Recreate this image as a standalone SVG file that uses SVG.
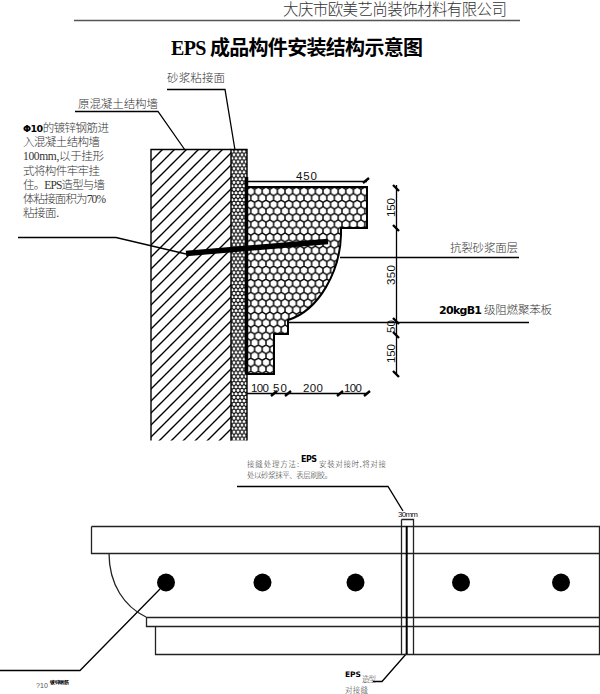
<svg xmlns="http://www.w3.org/2000/svg" width="600" height="694" viewBox="0 0 600 694">
<style>
text{font-family:"Liberation Serif","Noto Sans CJK SC",serif;fill:#333;font-weight:300}
.hd{font-size:15.500px}
.ti{font-size:20px;font-weight:bold;fill:#000}
.lb{font-size:11.500px}
.sm{font-size:7.500px}
.cad{font-family:"Liberation Sans","DejaVu Sans",sans-serif;font-size:11.500px;fill:#111;font-weight:400}
.eps{font-family:"DejaVu Sans","Liberation Sans",sans-serif;font-weight:bold;fill:#000}
.ln{fill:none;stroke:#000;stroke-width:1.300}
.tk{fill:none;stroke:#000;stroke-width:2.400}
.ol{fill:none;stroke:#222;stroke-width:1.300}
</style>
<defs>
<pattern id="hatch" width="12" height="12" patternUnits="userSpaceOnUse"><path d="M-2,14 L14,-2 M-2,2 L2,-2 M10,14 L14,10" stroke="#000" stroke-width="1.400" fill="none"/></pattern>
<pattern id="hexL" x="247" y="187" width="7.600" height="13.160" patternUnits="userSpaceOnUse"><path d="M0,2.190 L3.800,0 L7.600,2.190 M0,2.190 V6.580 L3.800,8.770 L7.600,6.580 V2.190 M3.800,8.770 V13.160" fill="none" stroke="#000" stroke-width="1.400"/></pattern>
<pattern id="hexS" width="4" height="6.930" patternUnits="userSpaceOnUse"><path d="M0,1.155 L2,0 L4,1.155 V3.465 L2,4.620 L0,3.465 V1.155 M2,4.620 V6.930" fill="none" stroke="#000" stroke-width="1.100"/></pattern>
</defs>
<g id="header">
<text class="hd" x="283" y="15" textLength="224">大庆市欧美艺尚装饰材料有限公司</text>
<line x1="74" y1="20.500" x2="520" y2="20.500" stroke="#555" stroke-width="1.600"/>
<text class="ti" x="171" y="55" textLength="252">EPS 成品构件安装结构示意图</text>
</g>
<g id="wall"><rect x="151" y="149.500" width="80" height="291" fill="url(#hatch)"/><path d="M151,440.500 V149.500 H231" fill="none" stroke="#000" stroke-width="1.400"/></g>
<g id="mortar"><rect x="231" y="149.500" width="16" height="291" fill="url(#hexS)"/><path d="M231,440.500 V149.500 H247 V440.500" fill="none" stroke="#000" stroke-width="1.400"/></g>
<g id="eps-shape"><path d="M247,187 H367 V228 H341 V235 C340,270 320,310 288,320 V334 H274 V374 H247 Z" fill="url(#hexL)" stroke="#000" stroke-width="2"/></g>
<g id="anchor">
<line x1="246.500" y1="177" x2="246.500" y2="374" stroke="#000" stroke-width="3.500"/>
<line x1="186" y1="253.500" x2="328" y2="241.500" stroke="#000" stroke-width="5.500"/>
</g>
<g id="connectors">
<path class="ln" d="M167,89.500 H225 L235,150"/>
<path class="ln" d="M75,111.500 H158 L185,150"/>
<path class="ln" d="M18,237.500 H116 L186,254"/>
<path class="ln" d="M340,257.500 H519"/>
<path class="ln" d="M288,322.500 H529"/>
<path class="ln" d="M247,181.500 H367"/>
<path class="ln" d="M396.500,185 V375"/>
<path class="ln" d="M247,393.500 H367"/>
<path class="tk" d="M363,183 L369,178 M393,185 L399,191 M393,225 L399,231 M393,318 L399,324 M393,332 L399,338 M393,371 L399,377 M271,396 L277,391 M285,396 L291,391 M337,396 L343,391 M364,396 L370,391"/>
<path class="ln" d="M237,486.500 H388 L403,511"/>
<path class="ln" d="M0,670.500 H80 L160,589"/>
<path class="ln" d="M407,653 L382,681.500 H373"/>
</g>
<g id="labels">
<text class="lb" x="167" y="82" textLength="58">砂浆粘接面</text>
<text class="lb" x="78" y="108" textLength="80">原混凝土结构墙</text>
<g id="note">
<text class="lb" x="23" y="132" textLength="86"><tspan class="eps" style="font-size:9.500px">Φ10</tspan>的镀锌钢筋进</text>
<text class="lb" x="23" y="146" textLength="77">入混凝土结构墙</text>
<text class="lb" x="23" y="160" textLength="81">100mm,以于挂形</text>
<text class="lb" x="23" y="175" textLength="77">式将构件牢牢挂</text>
<text class="lb" x="23" y="189" textLength="82">住。EPS造型与墙</text>
<text class="lb" x="23" y="203" textLength="83">体粘接面积为70%</text>
<text class="lb" x="23" y="217" textLength="36">粘接面.</text>
</g>
<text class="cad" x="296" y="180" textLength="21">450</text>
<text class="cad" transform="translate(395,217) rotate(-90)" textLength="19">150</text>
<text class="cad" transform="translate(395,285) rotate(-90)" textLength="20">350</text>
<text class="cad" transform="translate(395,333) rotate(-90)" textLength="13">50</text>
<text class="cad" transform="translate(395,363) rotate(-90)" textLength="19">150</text>
<text class="cad" x="251" y="392" textLength="18">100</text>
<text class="cad" x="273" y="392" textLength="14">50</text>
<text class="cad" x="303" y="392" textLength="20">200</text>
<text class="cad" x="344" y="392" textLength="18">100</text>
<text class="lb" x="450" y="252" textLength="68">抗裂砂浆面层</text>
<text class="eps" x="439" y="314" style="font-size:11px" textLength="43">20kgB1</text>
<text class="lb" x="484" y="314" textLength="68">级阻燃聚苯板</text>
<text class="sm" x="247" y="467" textLength="52">接缝处理方法:</text>
<text class="eps" x="301" y="462" style="font-size:8px" textLength="16">EPS</text>
<text class="sm" x="319" y="467" textLength="67">安装对接时,将对接</text>
<text class="sm" x="247" y="478" textLength="85">处以砂浆抹平、表层刷胶。</text>
<text class="cad" x="398" y="517" style="font-size:8px" textLength="20">30mm</text>
<text class="eps" x="345" y="677" style="font-size:7.500px" textLength="16">EPS</text>
<text class="sm" x="362" y="682" textLength="14">造型</text>
<text class="sm" x="345" y="693" textLength="23">对接缝</text>
<text class="cad" x="36" y="688" style="font-size:7px;fill:#555" textLength="12">?10</text>
<text class="eps" x="50" y="684" style="font-size:5px" textLength="19">镀锌钢筋</text>
</g>
<g id="moulding">
<path class="ol" d="M91.500,526.500 H599.500 V654.500 H155.500 V626.500 H146.500 V617.500 H599.500 M146.500,626.500 H599.500 M91.500,526.500 V553.500 H599.500"/>
<path class="ol" d="M109,553 C109,585 125,607 146,617"/>
<path class="ol" d="M401.500,519.500 H413.500 V654.500 M401.500,519.500 V654.500"/>
<line x1="406.700" y1="526" x2="406.700" y2="654" stroke="#000" stroke-width="2"/>
<g fill="#000"><circle cx="166" cy="582.500" r="9"/><circle cx="262.500" cy="582.500" r="9"/><circle cx="355.500" cy="582.500" r="9"/><circle cx="461" cy="582.500" r="9"/><circle cx="561" cy="582.500" r="9"/></g>
</g>
</svg>
